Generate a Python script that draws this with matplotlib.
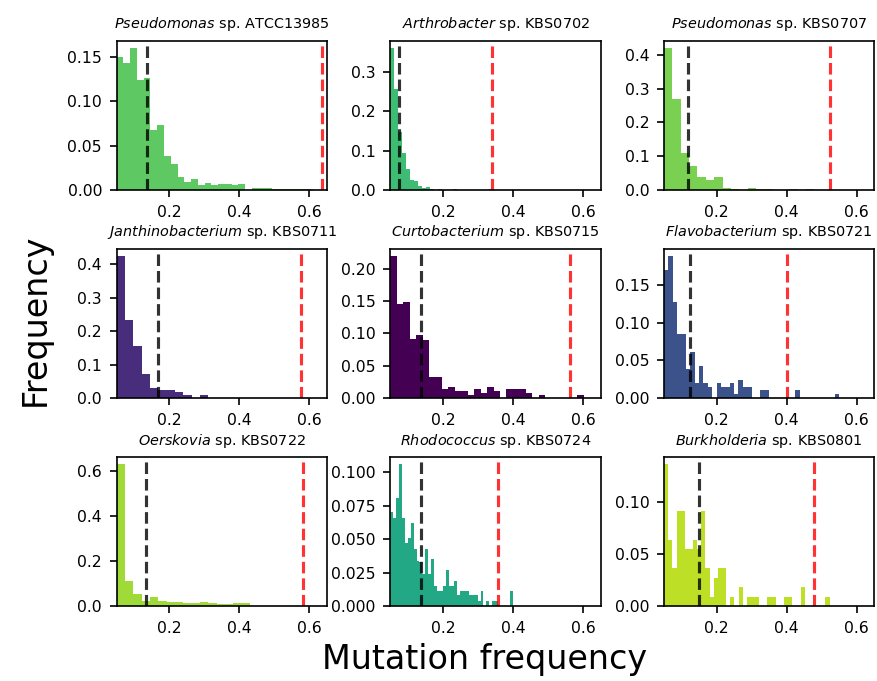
import numpy as np
import matplotlib
matplotlib.use("Agg")
from matplotlib import pyplot as plt
from matplotlib.ticker import MaxNLocator

# species names (italic genus, then strain)
genera = ["Pseudomonas", "Arthrobacter", "Pseudomonas",
          "Janthinobacterium", "Curtobacterium", "Flavobacterium",
          "Oerskovia", "Rhodococcus", "Burkholderia"]
strains = ["ATCC13985", "KBS0702", "KBS0707",
           "KBS0711", "KBS0715", "KBS0721",
           "KBS0722", "KBS0724", "KBS0801"]
colors = ["#5ec962", "#3fbc73", "#7ad151",
          "#472d7b", "#440154", "#3b528b",
          "#a0da39", "#22a884", "#bddf26"]

# histogram bin widths (bins start at 0.05)
bin_widths = [0.0193, 0.01124, 0.0238,
              0.0238, 0.0184, 0.01248,
              0.0238, 0.0083, 0.0118]

freq_atcc13985 = [0.150, 0.143, 0.160, 0.124, 0.126, 0.068, 0.073, 0.038, 0.029, 0.014,
                  0.0094, 0.012, 0.006, 0.008, 0.005, 0.0064, 0.007, 0.0053, 0.007, 0.0,
                  0.0026, 0.0026, 0.0026, 0.0008, 0.0008, 0.0008, 0.0008, 0.0008, 0.0008]
freq_kbs0702 = [0.361, 0.256, 0.147, 0.093, 0.052, 0.026, 0.022, 0.011, 0.006, 0.007,
                0.003, 0.0008, 0.0016, 0.0008, 0.0008, 0.0008, 0.0016, 0.0008, 0.0008, 0.0008,
                0.0008, 0.0, 0.0008, 0.0008, 0.0008, 0.0016, 0.0008, 0.0008, 0.0008, 0.0008,
                0.0008, 0.0008, 0.0, 0.0008, 0.0008, 0.0008, 0.0008, 0.0, 0.0008, 0.0008]
freq_kbs0707 = [0.42, 0.268, 0.109, 0.072, 0.037, 0.029, 0.037, 0.007, 0.004, 0.0,
                0.007, 0.004, 0.004, 0.0, 0.0, 0.004, 0.0, 0.004]
freq_kbs0711 = [0.425, 0.233, 0.155, 0.071, 0.029, 0.024, 0.024, 0.017, 0.008, 0.0, 0.008]
freq_kbs0715 = [0.2196, 0.146, 0.149, 0.092, 0.098, 0.089, 0.032, 0.032, 0.0134, 0.0165,
                0.0103, 0.0103, 0.004, 0.0134, 0.007, 0.0165, 0.0103, 0.0, 0.0134, 0.0134,
                0.0134, 0.007, 0.0, 0.004, 0.0, 0.0, 0.0, 0.0, 0.0, 0.004]
freq_kbs0721 = [0.170, 0.1885, 0.127, 0.0845, 0.0845, 0.038, 0.0606, 0.020, 0.0425, 0.020,
                0.014, 0.0, 0.020, 0.014, 0.014, 0.020, 0.005, 0.024, 0.014, 0.014,
                0.0, 0.0, 0.010, 0.010, 0.0, 0.0, 0.0, 0.0, 0.0, 0.0,
                0.010, 0.0, 0.0, 0.0, 0.0, 0.0, 0.0, 0.0, 0.0, 0.005]
freq_kbs0722 = [0.630, 0.111, 0.052, 0.024, 0.040, 0.022, 0.018, 0.018, 0.013, 0.013,
                0.018, 0.013, 0.009, 0.009, 0.013, 0.013]
freq_kbs0724 = [0.0705, 0.066, 0.081, 0.106, 0.066, 0.047, 0.051, 0.062, 0.043, 0.034,
                0.033, 0.024, 0.0425, 0.024, 0.035, 0.015, 0.011, 0.011, 0.015, 0.027,
                0.015, 0.015, 0.019, 0.008, 0.011, 0.011, 0.011, 0.008, 0.008, 0.008,
                0.004, 0.011, 0.0, 0.004, 0.0, 0.004, 0.004, 0.0, 0.0, 0.0,
                0.0, 0.011]
counts_kbs0801 = [15, 7, 4, 10, 10, 6, 6, 7, 6, 10, 4, 1, 3, 4, 4, 0, 1, 0, 2, 0,
                  1, 1, 1, 0, 0, 1, 1, 0, 0, 1, 1, 0, 0, 2, 0, 0, 0, 0, 0, 1]
freq_kbs0801 = list(np.array(counts_kbs0801) / 110.0)

all_freqs = [freq_atcc13985, freq_kbs0702, freq_kbs0707,
             freq_kbs0711, freq_kbs0715, freq_kbs0721,
             freq_kbs0722, freq_kbs0724, freq_kbs0801]

# dashed lines: black = mean, red = threshold
black_lines = [0.138, 0.076, 0.119, 0.168, 0.136, 0.123, 0.134, 0.136, 0.150]
red_lines = [0.637, 0.339, 0.524, 0.575, 0.562, 0.400, 0.583, 0.357, 0.478]


def plot_panel(ax, i):
    h = all_freqs[i]
    w = bin_widths[i]
    left = 0.05 + w * np.arange(len(h))
    ax.bar(left, h, width=w, align="edge", color=colors[i], linewidth=0)
    ax.axvline(x=black_lines[i], color="k", linestyle="--", lw=1.5, alpha=0.8)
    ax.axvline(x=red_lines[i], color="red", linestyle="--", lw=1.5, alpha=0.8)
    ax.set_xlim(0.05, 0.65)
    ax.set_xticks([0.2, 0.4, 0.6])
    ax.yaxis.set_major_locator(MaxNLocator(nbins=5, steps=[1, 2, 2.5, 5, 10]))
    ax.tick_params(labelsize=7.5)
    ax.set_title(r"$\it{" + genera[i] + "}$ sp. " + strains[i], fontsize=6.9)


fig, axes = plt.subplots(3, 3, figsize=(877 / 150, 681 / 150), dpi=150)
fig.subplots_adjust(left=0.133, right=0.997, top=0.940, bottom=0.110,
                    wspace=0.302, hspace=0.396)
for i, ax in enumerate(axes.flat):
    plot_panel(ax, i)

fig.text(0.040, 0.530, "Frequency", rotation=90, fontsize=16, ha="center", va="center")
fig.text(0.552, 0.031, "Mutation frequency", fontsize=16, ha="center", va="center")

fig.savefig("out.png", dpi=150)
